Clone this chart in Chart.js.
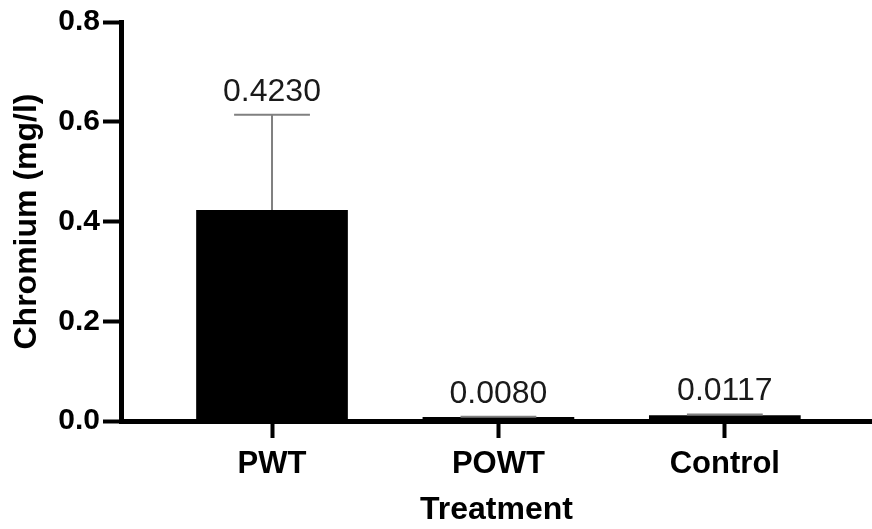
<!DOCTYPE html>
<html>
<head>
<meta charset="utf-8">
<script src="https://cdn.jsdelivr.net/npm/chart.js@4/dist/chart.umd.min.js"></script>
<style>
  html, body { margin: 0; padding: 0; background: #fff; }
  #wrap { width: 872px; height: 529px; }
</style>
</head>
<body>
<div id="wrap"><canvas id="chromiumChart" width="872" height="529"></canvas></div>
<script>
// chromium per treatment, mean +/- SD
const categories = ["PWT", "POWT", "Control"];
const means = [0.4230, 0.0080, 0.0117];
const sds = [0.191, 0.0006, 0.0015];
const valueLabels = ["0.4230", "0.0080", "0.0117"];
const yTicks = [0, 0.2, 0.4, 0.6, 0.8];

const FONT = "'Liberation Sans', Arial, Helvetica, sans-serif";

// error bars + value labels on top of each bar
const errorBarPlugin = {
  id: "errorBars",
  afterDatasetsDraw(chart) {
    const { ctx } = chart;
    const yScale = chart.scales.y;
    const meta = chart.getDatasetMeta(0);
    meta.data.forEach((bar, i) => {
      const x = bar.x;
      const yBase = yScale.getPixelForValue(means[i]);
      const yTop = yScale.getPixelForValue(means[i] + sds[i]);
      const capHalf = bar.width / 4;

      ctx.save();
      ctx.strokeStyle = "#808080";
      ctx.lineWidth = 2;
      ctx.beginPath();
      ctx.moveTo(x, yBase);
      ctx.lineTo(x, yTop);
      ctx.moveTo(x - capHalf, yTop);
      ctx.lineTo(x + capHalf, yTop);
      ctx.stroke();

      ctx.fillStyle = "#1a1a1a";
      ctx.font = "32px " + FONT;
      ctx.textAlign = "center";
      ctx.textBaseline = "alphabetic";
      ctx.fillText(valueLabels[i], x, yTop - 14);
      ctx.restore();
    });
  }
};

new Chart(document.getElementById("chromiumChart").getContext("2d"), {
  type: "bar",
  data: {
    datasets: [
      {
        label: "Chromium",
        data: means.map((v, i) => ({ x: i, y: v })),
        backgroundColor: "#000",
        borderWidth: 0,
        categoryPercentage: 1,
        barPercentage: 0.67,
      },
    ],
  },
  options: {
    responsive: false,
    animation: false,
    layout: { padding: { top: 22, right: 0, bottom: 0, left: 0 } },
    plugins: {
      legend: { display: false },
      tooltip: { enabled: false },
    },
    scales: {
      x: {
        type: "linear",
        offset: false,
        min: -0.667,
        max: 2.65,
        afterBuildTicks: (scale) => {
          scale.ticks = categories.map((c, i) => ({ value: i }));
        },
        afterFit: (scale) => {
          scale.height = 108;
        },
        border: { color: "#000", width: 5 },
        grid: {
          offset: false,
          drawOnChartArea: false,
          drawTicks: true,
          tickLength: 17,
          tickWidth: 4,
          tickColor: "#000",
        },
        ticks: {
          padding: 8,
          color: "#000",
          font: { family: FONT, size: 31, weight: "bold" },
          callback: (value) => categories[value],
        },
        title: {
          display: true,
          text: "Treatment",
          color: "#000",
          font: { family: FONT, size: 32, weight: "bold" },
          padding: { top: 4, bottom: 0 },
        },
      },
      y: {
        min: 0,
        max: 0.8,
        afterBuildTicks: (scale) => {
          scale.ticks = yTicks.map((v) => ({ value: v }));
        },
        afterFit: (scale) => {
          scale.width = 121;
        },
        border: { color: "#000", width: 5 },
        grid: {
          drawOnChartArea: false,
          drawTicks: true,
          tickLength: 18,
          tickWidth: 4,
          tickColor: "#000",
        },
        ticks: {
          padding: 3,
          color: "#000",
          font: { family: FONT, size: 30, weight: "bold" },
          callback: (value) => value.toFixed(1),
        },
        title: {
          display: true,
          text: "Chromium (mg/l)",
          color: "#000",
          font: { family: FONT, size: 32, weight: "bold" },
          padding: { top: 8, bottom: 0 },
        },
      },
    },
  },
  plugins: [errorBarPlugin],
});
</script>
</body>
</html>
